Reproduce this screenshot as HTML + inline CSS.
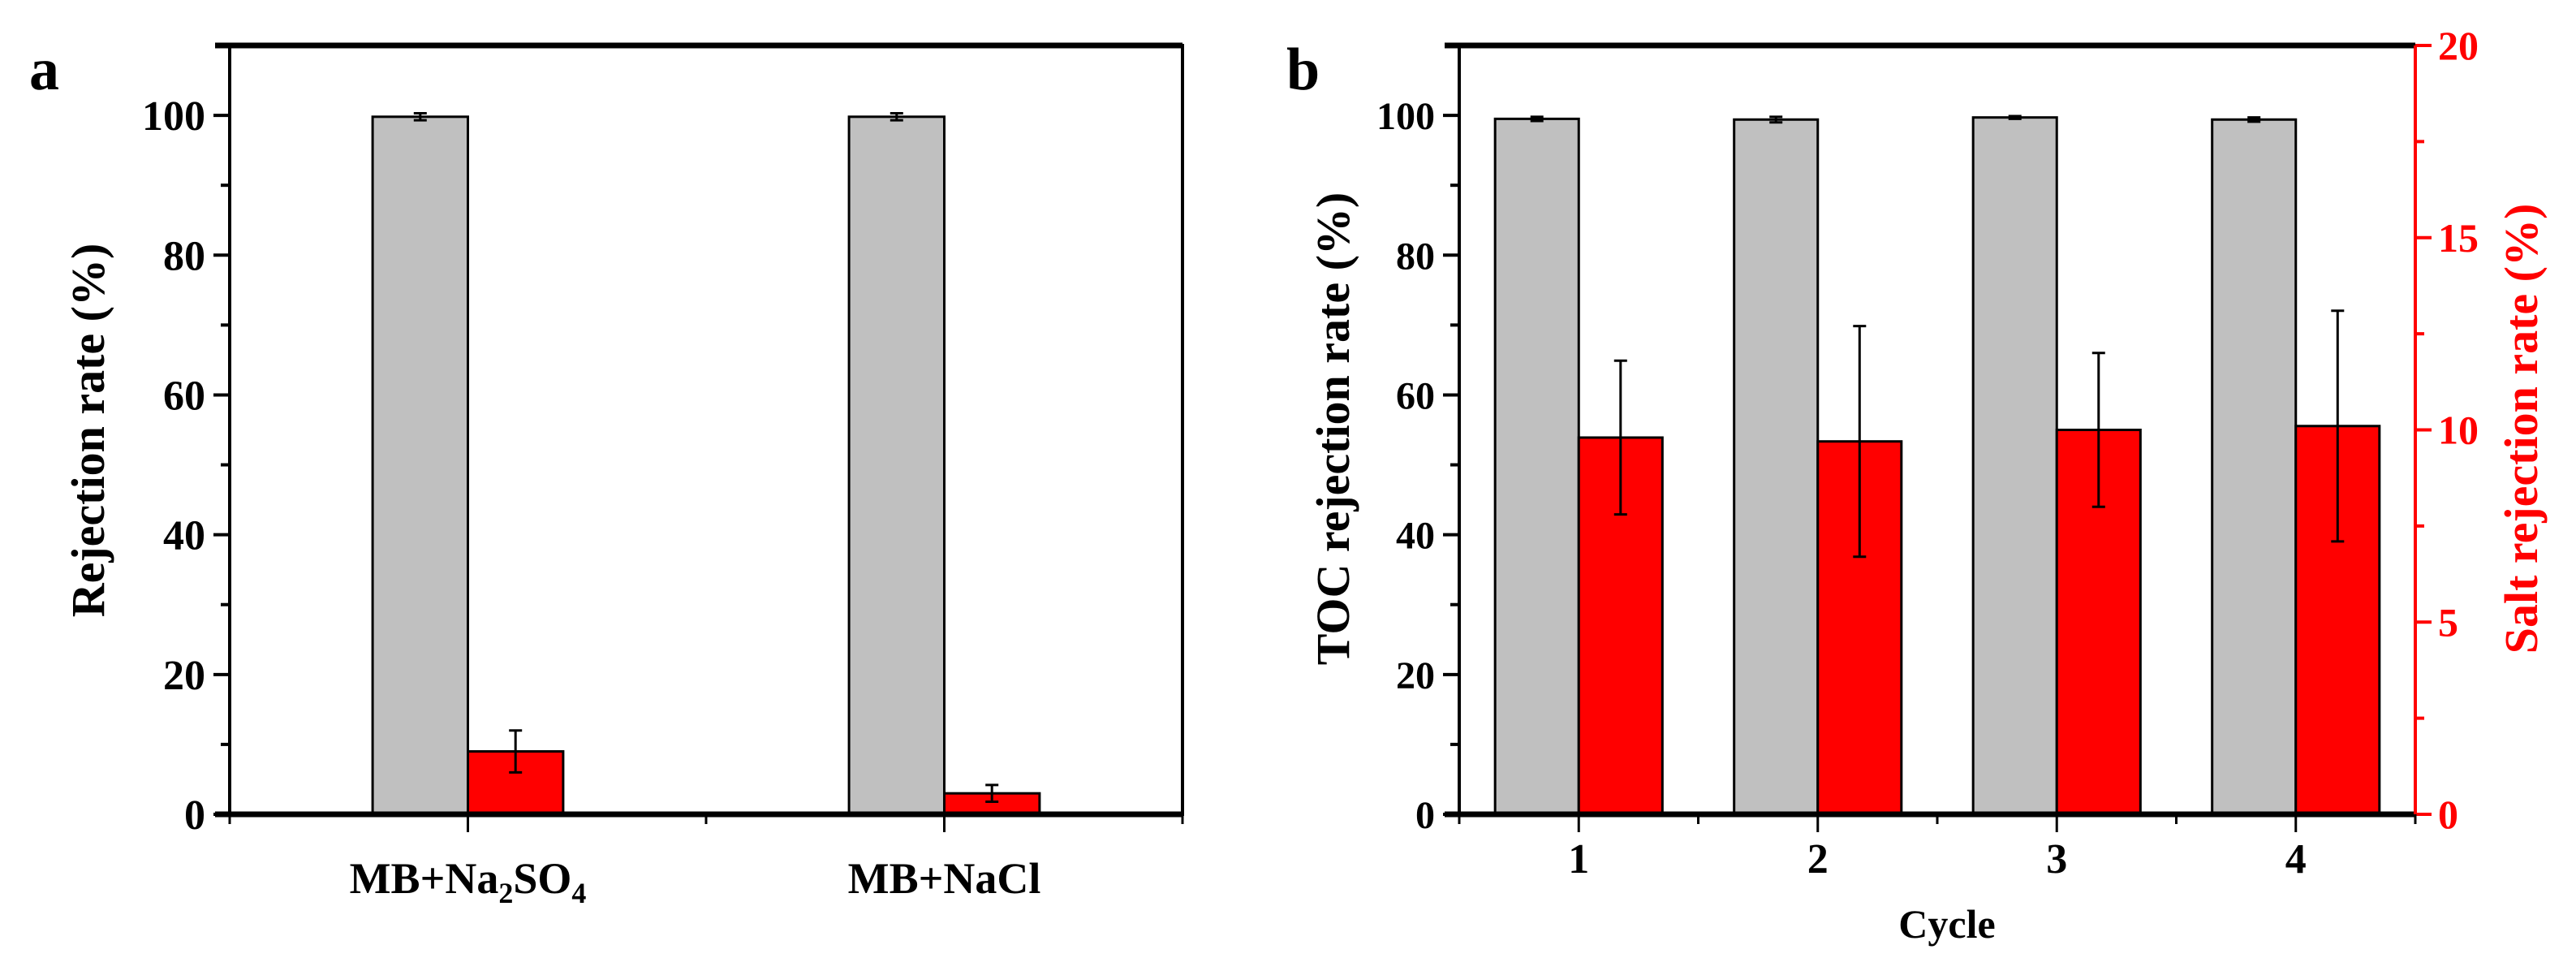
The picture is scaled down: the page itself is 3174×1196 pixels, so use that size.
<!DOCTYPE html>
<html><head><meta charset="utf-8"><style>
html,body{margin:0;padding:0;background:#fff;}
svg{display:block;font-family:"Liberation Serif",serif;font-weight:bold;}
</style></head><body>
<svg id="fig" width="3174" height="1196" viewBox="0 0 3174 1196" xmlns="http://www.w3.org/2000/svg">
<g id="pa"></g>
<g id="pb"></g>
</svg>
<script>
// Panel a data
const aCats = ["MB+Na2SO4", "MB+NaCl"];
const aMB = [99.8, 99.8];
const aMBErr = [0.5, 0.5];
const aSalt = [9.0, 3.0];
const aSaltErr = [3.0, 1.2];
const aYTicks = [0, 20, 40, 60, 80, 100];
// Panel b data
const bCats = ["1", "2", "3", "4"];
const bTOC = [99.5, 99.4, 99.7, 99.4];
const bTOCErr = [0.3, 0.4, 0.2, 0.3];
const bSalt = [9.8, 9.7, 10.0, 10.1];
const bSaltErr = [2.0, 3.0, 2.0, 3.0];
const bYTicks = [0, 20, 40, 60, 80, 100];
const bY2Ticks = [0, 5, 10, 15, 20];

const NS = "http://www.w3.org/2000/svg";
function el(parent, tag, attrs, text) {
  const e = document.createElementNS(NS, tag);
  for (const k in attrs) e.setAttribute(k, attrs[k]);
  if (text !== undefined) e.textContent = text;
  parent.appendChild(e);
  return e;
}
const TOP = 56, BOT = 1003;

function errBar(g, x, yv, ye, ys, col, cap) {
  const e1 = el(g, "line", {x1: x, x2: x, y1: ys(yv + ye), y2: ys(yv - ye), stroke: col, "stroke-width": 3});
  
  
  [yv + ye, yv - ye].forEach(v => {
    const c = el(g, "line", {x1: x - cap, x2: x + cap, y1: ys(v), y2: ys(v), stroke: col, "stroke-width": 3});
    
    
  });
}

// ---------- Panel a ----------
(function () {
  const g = document.getElementById("pa");
  const L = 283, R = 1457;
  const xs = v => L + (v / 2) * (R - L);
  const ys = v => BOT - (v / 110) * (BOT - TOP);
  const bw = 0.2;
  aCats.forEach((c, i) => {
    const cx = i + 0.5;
    const r1 = el(g, "rect", {x: xs(cx - bw), y: ys(aMB[i]), width: xs(cx) - xs(cx - bw), height: ys(0) - ys(aMB[i]), fill: "#c0c0c0", stroke: "#000", "stroke-width": 3});
    
    
    const r2 = el(g, "rect", {x: xs(cx), y: ys(aSalt[i]), width: xs(cx + bw) - xs(cx), height: ys(0) - ys(aSalt[i]), fill: "#ff0000", stroke: "#000", "stroke-width": 3});
    
    
    errBar(g, xs(cx - bw / 2), aMB[i], aMBErr[i], ys, "#000", 8);
    errBar(g, xs(cx + bw / 2), aSalt[i], aSaltErr[i], ys, "#000", 8);
  });
  const fr = el(g, "rect", {x: L, y: TOP, width: R - L, height: BOT - TOP, fill: "none", stroke: "#000", "stroke-width": 4});
  
  
  el(g, "line", {x1: L - 18, x2: R, y1: BOT, y2: BOT, stroke: "#000", "stroke-width": 7});
  el(g, "line", {x1: L - 18, x2: R, y1: TOP, y2: TOP, stroke: "#000", "stroke-width": 7});
  for (let v = 0; v <= 110; v += 10) {
    const maj = v % 20 === 0;
    el(g, "line", {x1: L - (maj ? 20 : 11), x2: L, y1: ys(v), y2: ys(v), stroke: "#000", "stroke-width": 4});
  }
  aYTicks.forEach(v => {
    const t = el(g, "text", {x: L - 30, y: ys(v) + 18, "text-anchor": "end", "font-size": 52}, String(v));
    
    
  });
  [0, 0.5, 1, 1.5, 2].forEach(v => {
    const maj = (v * 2) % 2 === 1;
    el(g, "line", {x1: xs(v), x2: xs(v), y1: BOT, y2: BOT + (maj ? 22 : 12), stroke: "#000", "stroke-width": 3});
  });
  const t1 = el(g, "text", {x: xs(0.5), y: 1100, "text-anchor": "middle", "font-size": 54});
  
  
  t1.innerHTML = 'MB+Na<tspan font-size="36" dy="12">2</tspan><tspan dy="-12">SO</tspan><tspan font-size="36" dy="12">4</tspan>';
  const t2 = el(g, "text", {x: xs(1.5), y: 1100, "text-anchor": "middle", "font-size": 54}, "MB+NaCl");
  
  
  const yl = el(g, "text", {x: 0, y: 0, transform: "translate(128,530) rotate(-90)", "text-anchor": "middle", "font-size": 58}, "Rejection rate (%)");
  
  
  const pl = el(g, "text", {x: 36, y: 110, "font-size": 74}, "a");
  
  
})();

// ---------- Panel b ----------
(function () {
  const g = document.getElementById("pb");
  const L = 1798, R = 2976;
  const xs = v => L + ((v - 0.5) / 4) * (R - L);
  const ys = v => BOT - (v / 110) * (BOT - TOP);
  const ys2 = v => BOT - (v / 20) * (BOT - TOP);
  const bw = 0.35;
  bCats.forEach((c, i) => {
    const cx = i + 1;
    const r1 = el(g, "rect", {x: xs(cx - bw), y: ys(bTOC[i]), width: xs(cx) - xs(cx - bw), height: ys(0) - ys(bTOC[i]), fill: "#c0c0c0", stroke: "#000", "stroke-width": 3});
    
    
    const r2 = el(g, "rect", {x: xs(cx), y: ys2(bSalt[i]), width: xs(cx + bw) - xs(cx), height: ys2(0) - ys2(bSalt[i]), fill: "#ff0000", stroke: "#000", "stroke-width": 3});
    
    
    errBar(g, xs(cx - bw / 2), bTOC[i], bTOCErr[i], ys, "#000", 8);
    errBar(g, xs(cx + bw / 2), bSalt[i], bSaltErr[i], ys2, "#000", 8);
  });
  el(g, "line", {x1: L, x2: L, y1: TOP, y2: BOT, stroke: "#000", "stroke-width": 4});
  el(g, "line", {x1: L - 18, x2: R, y1: BOT, y2: BOT, stroke: "#000", "stroke-width": 7});
  el(g, "line", {x1: L - 18, x2: R, y1: TOP, y2: TOP, stroke: "#000", "stroke-width": 7});
  const ra = el(g, "line", {x1: R, x2: R, y1: TOP, y2: BOT, stroke: "#ff0000", "stroke-width": 4});
  
  
  for (let v = 0; v <= 110; v += 10) {
    const maj = v % 20 === 0;
    el(g, "line", {x1: L - (maj ? 20 : 11), x2: L, y1: ys(v), y2: ys(v), stroke: "#000", "stroke-width": 4});
  }
  bYTicks.forEach(v => {
    const t = el(g, "text", {x: L - 30, y: ys(v) + 17, "text-anchor": "end", "font-size": 48}, String(v));
    
    
  });
  for (let v = 0; v <= 20; v += 2.5) {
    const maj = v % 5 === 0;
    el(g, "line", {x1: R, x2: R + (maj ? 20 : 11), y1: ys2(v), y2: ys2(v), stroke: "#ff0000", "stroke-width": 4});
  }
  bY2Ticks.forEach(v => {
    const t = el(g, "text", {x: R + 28, y: ys2(v) + 17, "text-anchor": "start", "font-size": 50, fill: "#ff0000"}, String(v));
    
    
  });
  for (let v = 0.5; v <= 4.5; v += 0.5) {
    const maj = v % 1 === 0;
    el(g, "line", {x1: xs(v), x2: xs(v), y1: BOT, y2: BOT + (maj ? 22 : 12), stroke: "#000", "stroke-width": 3});
  }
  bCats.forEach((c, i) => {
    const t = el(g, "text", {x: xs(i + 1), y: 1075, "text-anchor": "middle", "font-size": 52}, c);
    
    
  });
  const xt = el(g, "text", {x: 2399, y: 1155, "text-anchor": "middle", "font-size": 50}, "Cycle");
  
  
  const yl = el(g, "text", {x: 0, y: 0, transform: "translate(1662,528) rotate(-90)", "text-anchor": "middle", "font-size": 58}, "TOC rejection rate (%)");
  
  
  const yr = el(g, "text", {x: 0, y: 0, transform: "translate(3126,528) rotate(-90)", "text-anchor": "middle", "font-size": 58, fill: "#ff0000"}, "Salt rejection rate (%)");
  
  
  const pl = el(g, "text", {x: 1585, y: 110, "font-size": 74}, "b");
  
  
})();
</script>
</body></html>
